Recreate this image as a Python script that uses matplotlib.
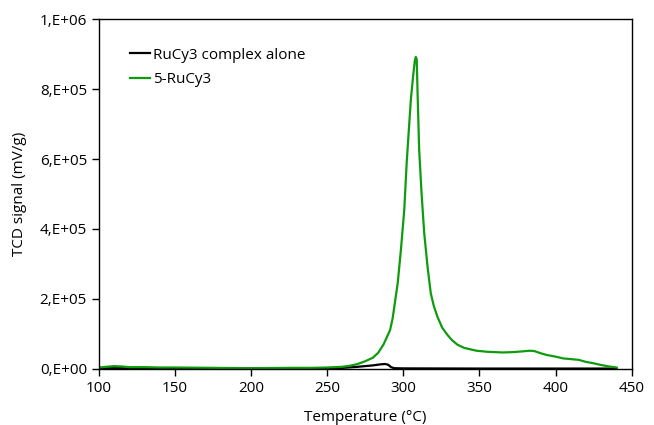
import numpy as np
import matplotlib
matplotlib.use("Agg")
import matplotlib.pyplot as plt
from matplotlib.ticker import FuncFormatter

# --- Data ---
temp_green = [100, 105, 110, 115, 120, 130, 140, 150, 175, 200, 225, 240, 250, 255,
              260, 265, 270, 275, 280, 283.5, 287, 291.3, 293, 294.8, 296.3, 298.4,
              300.6, 302.2, 303.9, 305.0, 306.5, 307.5, 308.2, 308.8, 309.3, 310.4,
              312.0, 313.7, 315.9, 318.0, 320, 322.4, 325.5, 329,
              332, 335.6, 340, 348, 355, 365, 372, 378, 383, 386, 390, 394, 400, 405,
              410, 415, 420, 425, 430, 435, 440]
sig_green = [4, 6, 8, 7, 5, 5, 4, 4, 3, 2, 3, 3, 4, 5,
             6, 9, 14, 22, 32, 46, 70, 111, 145, 200, 245, 340,
             454, 589, 702, 773, 840, 880, 892, 885, 797, 626,
             500, 389, 292, 217, 180, 149, 118, 97,
             82, 69, 60, 52, 49, 47, 48, 50, 52, 51, 45, 40, 35, 30,
             28, 26, 20, 16, 11, 7, 4]

temp_black = [100, 150, 200, 250, 260, 270, 280, 285, 288, 290, 292, 294, 300, 350, 400, 440]
sig_black = [2, 2, 1.5, 2, 3, 6, 10, 13, 14, 12, 5, 2, 1.5, 1, 1, 1]

sig_green = np.array(sig_green) * 1000
sig_black = np.array(sig_black) * 1000

plt.rcParams["font.family"] = ["Open Sans", "DejaVu Sans"]

fig = plt.figure(figsize=(6.54, 4.25), dpi=100)
ax = fig.add_axes([0.151, 0.132, 0.815, 0.823])

ax.plot(temp_black, sig_black, color="black", lw=1.6, label="RuCy3 complex alone")
ax.plot(temp_green, sig_green, color="#0e9c0e", lw=1.6, label="5-RuCy3")

ax.set_xlim(100, 450)
ax.set_ylim(0, 1e6)
ax.set_xticks(np.arange(100, 451, 50))
ax.set_yticks(np.arange(0, 1e6 + 1, 2e5))


def sci_comma(v, pos):
    if v == 0:
        return "0,E+00"
    e = int(np.floor(np.log10(abs(v))))
    m = v / 10 ** e
    return f"{m:.0f},E+{e:02d}"


ax.yaxis.set_major_formatter(FuncFormatter(sci_comma))
ax.tick_params(direction="out", length=5, width=1, labelsize=11, colors="black")
for s in ax.spines.values():
    s.set_linewidth(1)

ax.set_xlabel("Temperature (°C)", fontsize=11, labelpad=10)
ax.set_ylabel("TCD signal (mV/g)", fontsize=11, labelpad=9)

ax.legend(loc="upper left", bbox_to_anchor=(0.058, 0.918), frameon=False,
          handlelength=1.3, handletextpad=0.25, labelspacing=0.62, fontsize=11,
          borderaxespad=0, borderpad=0)

fig.savefig("out.png", dpi=100)
